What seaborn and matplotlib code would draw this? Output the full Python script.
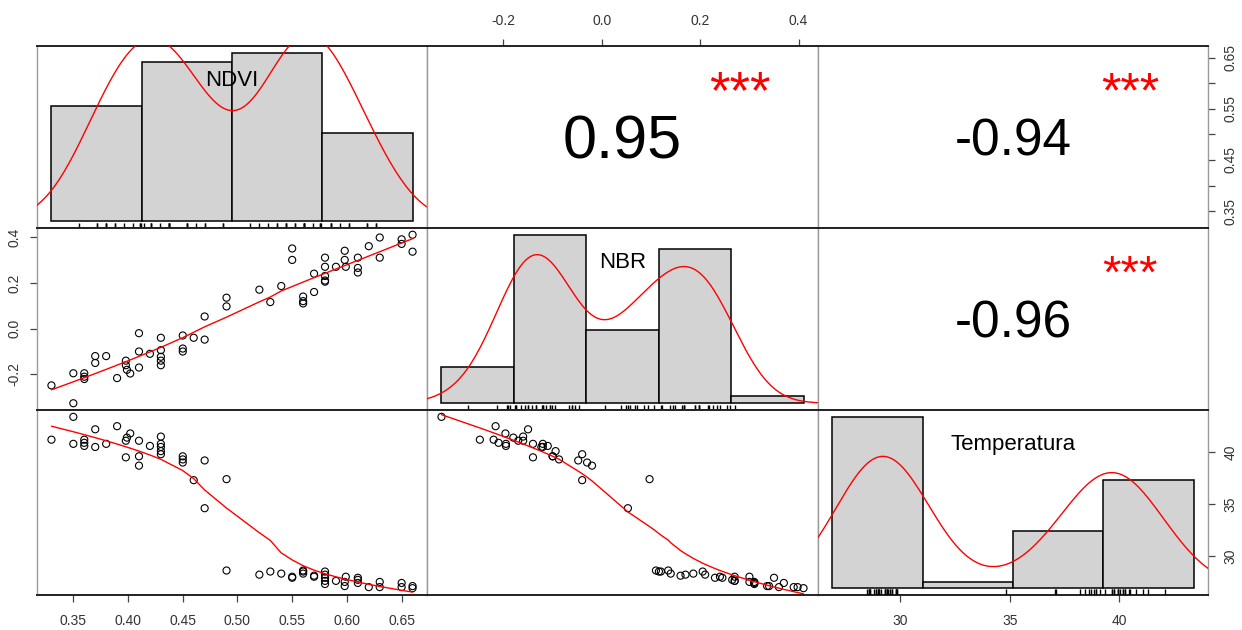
import numpy as np
import pandas as pd
import matplotlib
matplotlib.use("Agg")
import matplotlib.pyplot as plt
import matplotlib.transforms as mtransforms
import seaborn as sns

# ---------------- data ----------------
ndvi = [0.330, 0.350, 0.350, 0.360, 0.360, 0.360, 0.370, 0.370, 0.380, 0.390,
        0.398, 0.398, 0.399, 0.402, 0.410, 0.410, 0.410, 0.420, 0.430, 0.430,
        0.430, 0.430, 0.430, 0.450, 0.450, 0.450, 0.460, 0.470, 0.470, 0.490,
        0.490, 0.520, 0.530, 0.540, 0.550, 0.550, 0.560, 0.560, 0.560, 0.570,
        0.570, 0.580, 0.580, 0.580, 0.580, 0.580, 0.590, 0.598, 0.598, 0.599,
        0.610, 0.610, 0.610, 0.620, 0.630, 0.630, 0.650, 0.650, 0.660, 0.660]
nbr = [-0.248, -0.195, -0.326, -0.195, -0.210, -0.220, -0.120, -0.150, -0.120, -0.216,
       -0.140, -0.160, -0.180, -0.196, -0.020, -0.100, -0.170, -0.110, -0.040, -0.094,
       -0.123, -0.140, -0.160, -0.030, -0.087, -0.100, -0.040, 0.053, -0.048, 0.135,
       0.097, 0.170, 0.116, 0.186, 0.350, 0.300, 0.140, 0.120, 0.110, 0.240,
       0.160, 0.310, 0.270, 0.230, 0.210, 0.205, 0.270, 0.340, 0.300, 0.270,
       0.310, 0.265, 0.245, 0.360, 0.398, 0.310, 0.390, 0.370, 0.410, 0.336]
temperatura = [41.2, 40.8, 43.4, 40.6, 40.9, 41.2, 40.5, 42.2, 40.8, 42.5,
               39.5, 41.1, 41.4, 41.8, 38.7, 39.6, 41.1, 40.6, 39.8, 40.1,
               40.5, 40.8, 41.5, 39.0, 39.3, 39.6, 37.3, 34.6, 39.2, 28.6,
               37.4, 28.2, 28.5, 28.3, 27.9, 28.0, 28.3, 28.5, 28.6, 28.0,
               28.1, 27.3, 27.6, 27.9, 28.2, 28.5, 27.6, 27.1, 27.5, 28.0,
               27.4, 27.7, 27.9, 27.0, 27.0, 27.5, 27.0, 27.4, 26.9, 27.1]

variables = ["NDVI", "NBR", "Temperatura"]
corr_labels = {(0, 1): "0.95", (0, 2): "-0.94", (1, 2): "-0.96"}
signif_labels = {(0, 1): "***", (0, 2): "***", (1, 2): "***"}
hist_breaks = {"NDVI": [0.3, 0.4, 0.5, 0.6, 0.7],
               "NBR": [-0.4, -0.2, 0.0, 0.2, 0.4, 0.6],
               "Temperatura": [25, 30, 35, 40, 45]}
ndvi_ticks = [0.35, 0.40, 0.45, 0.50, 0.55, 0.60, 0.65]
ndvi_tick_labels = ["0.35", "0.40", "0.45", "0.50", "0.55", "0.60", "0.65"]
ndvi_right_labels = ["0.35", "", "0.45", "", "0.55", "", "0.65"]
nbr_ticks = [-0.2, 0.0, 0.2, 0.4]
nbr_tick_labels = ["-0.2", "0.0", "0.2", "0.4"]
temp_ticks = [30, 35, 40]
temp_tick_labels = ["30", "35", "40"]

df = pd.DataFrame({"NDVI": ndvi, "NBR": nbr, "Temperatura": temperatura})

# ---------------- style ----------------
sns.set_style("white")
plt.rcParams["font.family"] = ["Liberation Sans", "DejaVu Sans"]

W, H = 1242, 630
fig = plt.figure(figsize=(W / 100, H / 100), dpi=100)
XS = [37, 427, 818, 1208]
YS = [46, 228, 410, 595]


def rect(i, j):
    return [XS[j] / W, 1 - YS[i + 1] / H, (XS[j + 1] - XS[j]) / W, (YS[i + 1] - YS[i]) / H]


def padded(lo, hi, f=0.04):
    d = (hi - lo) * f
    return lo - d, hi + d


def lowess(x, y, f=2 / 3, iters=3):
    order = np.argsort(x, kind="mergesort")
    x = np.asarray(x, float)[order]
    y = np.asarray(y, float)[order]
    n = len(x)
    ns = max(min(int(f * n + 1e-7), n), 2)
    fitted = np.zeros(n)
    rw = np.ones(n)
    for it in range(iters + 1):
        for i in range(n):
            d = np.abs(x - x[i])
            h = max(np.sort(d)[ns - 1], 1e-12)
            u = d / h
            w = np.where(u < 1, (1 - u ** 3) ** 3, 0.0) * rw
            sw = w.sum()
            if sw <= 0:
                fitted[i] = y[i]
                continue
            xm = (w * x).sum() / sw
            ym = (w * y).sum() / sw
            sxx = (w * (x - xm) ** 2).sum()
            b = (w * (x - xm) * (y - ym)).sum() / sxx if sxx > 1e-14 else 0.0
            fitted[i] = ym + b * (x[i] - xm)
        if it == iters:
            break
        res = y - fitted
        s = np.median(np.abs(res))
        if s == 0:
            break
        u = res / (6 * s)
        rw = np.where(np.abs(u) < 1, (1 - u ** 2) ** 2, 0.0)
    return x, fitted


def baseline_offset(frac_em, fs):
    return mtransforms.ScaledTranslation(0, -frac_em * fs / 72, fig.dpi_scale_trans)


lims = {v: padded(df[v].min(), df[v].max()) for v in variables}
TICK_COLOR = "#444444"
LABEL_COLOR = "#333333"
corr_fs = {(0, 1): 44, (0, 2): 37, (1, 2): 37}
star_fs = {(0, 1): 38, (0, 2): 36, (1, 2): 34}
name_fs = 16

axes = {}
for i, vy in enumerate(variables):
    for j, vx in enumerate(variables):
        ax = fig.add_axes(rect(i, j))
        ax.set_facecolor("white")
        ax.tick_params(which="both", bottom=False, top=False, left=False, right=False,
                       labelbottom=False, labeltop=False, labelleft=False, labelright=False)
        for s in ["left", "right"]:
            ax.spines[s].set_visible(True)
            ax.spines[s].set_color("#9a9a9a")
            ax.spines[s].set_linewidth(1.0)
        for s in ["top", "bottom"]:
            ax.spines[s].set_visible(True)
            ax.spines[s].set_color("#222222")
            ax.spines[s].set_linewidth(1.4)
        axes[(i, j)] = ax

        if i > j:
            sns.scatterplot(data=df, x=vx, y=vy, ax=ax, marker="o", s=26,
                            linewidth=0.8, legend=False)
            coll = ax.collections[-1]
            coll.set_facecolor("none")
            coll.set_edgecolor("black")
            lx, ly = lowess(df[vx].values, df[vy].values)
            ax.plot(lx, ly, color="red", lw=1.0)
        elif i == j:
            hx = fig.add_axes(rect(i, j))
            hx.patch.set_visible(False)
            br = hist_breaks[vx]
            sns.histplot(data=df, x=vx, bins=br, stat="density", color="#D3D3D3",
                         edgecolor="black", linewidth=1.1, alpha=1, ax=hx)
            vals = df[vx].values
            sd = vals.std(ddof=1)
            iqr = np.subtract(*np.percentile(vals, [75, 25]))
            bw = 0.9 * min(sd, iqr / 1.34) * len(vals) ** (-0.2)
            sns.kdeplot(data=df, x=vx, bw_method=bw / sd, cut=3, color="red",
                        lw=1.0, ax=hx)
            sns.rugplot(data=df, x=vx, height=0.03, color="black", lw=0.8, ax=hx)
            dens, _ = np.histogram(vals, bins=br, density=True)
            hx.set_xlim(padded(br[0], br[-1]))
            hx.set_ylim(padded(0, dens.max()))
            hx.set_axis_off()
            hx.text(0.5, 0.825, vx, ha="center", va="baseline", fontsize=name_fs,
                    color="black",
                    transform=hx.transAxes + baseline_offset(0.358, name_fs))
        else:
            fs = corr_fs[(i, j)]
            ax.text(0.5, 0.5, corr_labels[(i, j)], ha="center", va="baseline",
                    fontsize=fs, color="black",
                    transform=ax.transAxes + baseline_offset(0.358, fs))
            sf = star_fs[(i, j)]
            ax.text(0.8, 0.79, signif_labels[(i, j)], ha="center", va="baseline",
                    fontsize=sf, color="red",
                    transform=ax.transAxes + baseline_offset(0.46, sf))

        ax.set_xlim(lims[vx])
        ax.set_ylim(lims[vy])
        ax.set_xlabel("")
        ax.set_ylabel("")

tick_kw = dict(length=5, width=0.9, color=TICK_COLOR, labelsize=10, labelcolor=LABEL_COLOR)

# bottom axis, column 1 (NDVI)
a = axes[(2, 0)]
a.set_xticks(ndvi_ticks)
a.set_xticklabels(ndvi_tick_labels)
a.tick_params(axis="x", bottom=True, labelbottom=True, direction="out", pad=9, **tick_kw)

# top axis, column 2 (NBR)
a = axes[(0, 1)]
a.set_xticks(nbr_ticks)
a.set_xticklabels(nbr_tick_labels)
a.tick_params(axis="x", top=True, labeltop=True, direction="out", pad=8, **tick_kw)

# bottom axis, column 3 (Temperatura)
a = axes[(2, 2)]
a.set_xticks(temp_ticks)
a.set_xticklabels(temp_tick_labels)
a.tick_params(axis="x", bottom=True, labelbottom=True, direction="out", pad=9, **tick_kw)

# left axis, row 2 (NBR)
a = axes[(1, 0)]
a.set_yticks(nbr_ticks)
a.set_yticklabels(nbr_tick_labels)
a.tick_params(axis="y", left=True, labelleft=True, direction="out", pad=6, **tick_kw)
for lab in a.get_yticklabels():
    lab.set_rotation(90)
    lab.set_va("center")

# right axis, row 1 (NDVI)
a = axes[(0, 2)]
a.set_yticks(ndvi_ticks)
a.set_yticklabels(ndvi_right_labels)
a.tick_params(axis="y", right=True, labelright=True, direction="out", pad=6, **tick_kw)
for lab in a.get_yticklabels():
    lab.set_rotation(90)
    lab.set_va("center")

# right axis, row 3 (Temperatura)
a = axes[(2, 2)]
a.set_yticks(temp_ticks)
a.set_yticklabels(temp_tick_labels)
a.tick_params(axis="y", right=True, labelright=True, direction="out", pad=6, **tick_kw)
for lab in a.get_yticklabels():
    lab.set_rotation(90)
    lab.set_va("center")

fig.savefig("out.png", dpi=100, facecolor="white")
